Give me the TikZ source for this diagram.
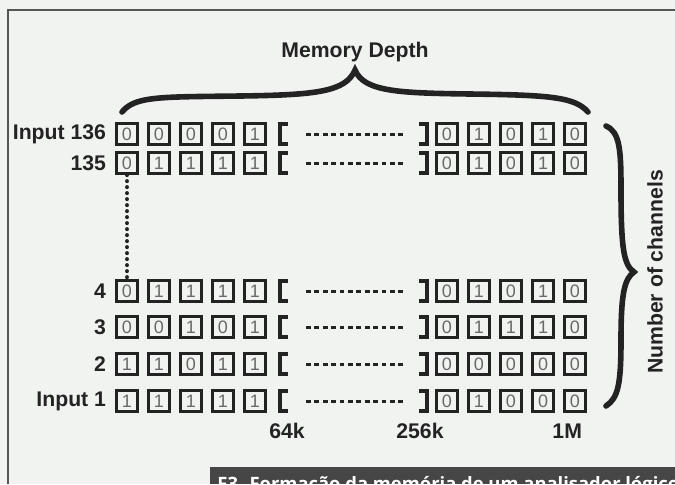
\documentclass[tikz,border=0pt]{standalone}
\usepackage{fontspec}
\setmainfont{Liberation Sans}
\newfontfamily\capfont{Open Sans}
\usepackage{tikz}
\usetikzlibrary{calc,positioning}
\definecolor{scanbg}{RGB}{241,243,241}
\definecolor{framegray}{RGB}{85,85,85}
\definecolor{bitgray}{RGB}{105,105,105}
\definecolor{inkdark}{RGB}{35,35,35}
\definecolor{capbar}{RGB}{70,70,70}

\begin{document}
\begin{tikzpicture}[x=0.5pt,y=-0.5pt,
  bit/.style={draw=inkdark,line width=1.6pt,minimum size=10.5pt,inner sep=0pt,text=bitgray,font=\fontsize{9}{9}\selectfont},
  lbl/.style={text=inkdark,font=\bfseries\fontsize{10.6}{12}\selectfont},
  bracketline/.style={draw=inkdark,line width=1.6pt},
  gapline/.style={draw=inkdark,line width=1.5pt,dash pattern=on 2.4pt off 1.8pt},
  bracethick/.style={draw=inkdark,line width=2.8pt,line cap=round}]
  \useasboundingbox (0,0) rectangle (675,484);
  \clip (0,0) rectangle (675,484);
  \fill[scanbg] (0,0) rectangle (675,484);
  \draw[framegray,line width=0.9pt] (8,484) -- (8,10) -- (675,10);

  % rows: name / y / label / first bits / last bits
  \foreach \row/\yy/\lab/\lbits/\rbits in {
    136/134/Input 136/{0,0,0,0,1}/{0,1,0,1,0},
    135/163/135/{0,1,1,1,1}/{0,1,0,1,0},
    4/291/4/{0,1,1,1,1}/{0,1,0,1,0},
    3/327/3/{0,0,1,0,1}/{0,1,1,1,0},
    2/364/2/{1,1,0,1,1}/{0,0,0,0,0},
    1/401/Input 1/{1,1,1,1,1}/{0,1,0,0,0}}{
    \node[lbl,anchor=east] (lab\row) at (113,\yy) {\lab};
    \foreach \v [count=\i] in \lbits
      \node[bit] (b\row-\i) at ({95+32*\i},\yy) {\v};
    \foreach \v [count=\i] in \rbits
      \node[bit] (r\row-\i) at ({415+32*\i},\yy) {\v};
    \coordinate (lb\row) at (280,\yy);
    \coordinate (rb\row) at (427,\yy);
    \draw[bracketline] ($(lb\row)+(8,-10)$) -| ($(lb\row)+(0,10)$) -- ++(8,0);
    \draw[bracketline] ($(rb\row)+(-8,-10)$) -| ($(rb\row)+(0,10)$) -- ++(-8,0);
    \draw[gapline] ($(lb\row)+(26,0)$) -- ($(rb\row)+(-23,0)$);
  }
  \draw[inkdark,line width=2pt,line cap=round,dash pattern=on 0pt off 3pt] (b135-1.south) -- (b4-1.north);

  % Memory Depth
  \node[lbl] (depth) at (355,52) {Memory Depth};
  \draw[bracethick] (122,112) .. controls (135,96) and (160,97) .. (240,96)
    .. controls (315,95) and (346,92) .. (355,70)
    .. controls (364,92) and (400,93) .. (470,94)
    .. controls (550,95) and (575,97) .. (588,112);

  % Number of channels
  \node[lbl,rotate=90] (chan) at (655,272) {Number of channels};
  \draw[bracethick] (606,126) .. controls (620,132) and (621,150) .. (621,190)
    .. controls (621,250) and (624,265) .. (634,272)
    .. controls (624,279) and (621,295) .. (621,340)
    .. controls (621,385) and (618,398) .. (606,406);

  \node[lbl] (k64) at (287,431) {64k};
  \node[lbl] (k256) at (420,431) {256k};
  \node[lbl,anchor=east] (m1) at (589,431) {1M};

  % caption bar
  \fill[capbar] (210,467) rectangle (675,484);
  \node[anchor=base west,inner sep=0pt,text=white,font=\capfont\bfseries\fontsize{9.2}{9.2}\selectfont] (cap) at (217,490) {F3. Formação da memória de um analisador lógico};
\end{tikzpicture}
\end{document}
